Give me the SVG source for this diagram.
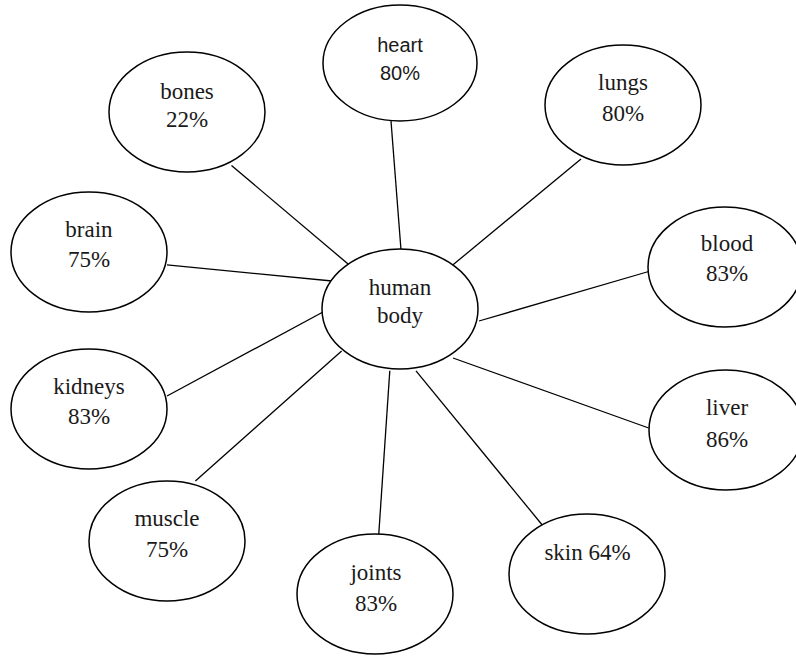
<svg xmlns="http://www.w3.org/2000/svg" width="796" height="657" viewBox="0 0 796 657">
<style>
.n ellipse{fill:#fff;stroke:#000;stroke-width:1.5}
.n text{font-family:"Liberation Serif","Times New Roman",serif;font-size:23px;fill:#1a1a1a;text-anchor:middle}
.n text.s{font-family:"Liberation Sans",Arial,sans-serif;font-size:20px}
#edges line{stroke:#000;stroke-width:1.3}
</style>
<rect width="796" height="657" fill="#fff"/>
<g id="edges">
<line x1="391" y1="121" x2="401" y2="250"/>
<line x1="231.5" y1="165.5" x2="349" y2="264.8"/>
<line x1="581" y1="159" x2="453" y2="264.8"/>
<line x1="167" y1="264.8" x2="332" y2="281"/>
<line x1="648.7" y1="271.5" x2="479" y2="321"/>
<line x1="167" y1="396" x2="323" y2="312"/>
<line x1="648.7" y1="428" x2="453" y2="358"/>
<line x1="195.4" y1="481" x2="341.6" y2="351"/>
<line x1="378.7" y1="535" x2="389.8" y2="370.8"/>
<line x1="544.7" y1="528" x2="416" y2="370.8"/>
</g>
<g id="heart" class="n"><ellipse cx="400" cy="63" rx="77" ry="58"/><text class="s" x="400" y="52">heart</text><text class="s" x="400" y="80">80%</text></g>
<g id="bones" class="n"><ellipse cx="187" cy="112" rx="78" ry="60"/><text x="187" y="99">bones</text><text x="187" y="127">22%</text></g>
<g id="lungs" class="n"><ellipse cx="623" cy="105" rx="78" ry="60"/><text x="623" y="90">lungs</text><text x="623" y="121">80%</text></g>
<g id="brain" class="n"><ellipse cx="89" cy="252" rx="78" ry="60"/><text x="89" y="237">brain</text><text x="89" y="267">75%</text></g>
<g id="human-body" class="n"><ellipse cx="400" cy="309" rx="78" ry="60"/><text x="400" y="295">human</text><text x="400" y="323">body</text></g>
<g id="blood" class="n"><ellipse cx="725" cy="267" rx="77" ry="60"/><text x="727" y="251">blood</text><text x="727" y="281">83%</text></g>
<g id="kidneys" class="n"><ellipse cx="89" cy="409" rx="78" ry="60"/><text x="89" y="394">kidneys</text><text x="89" y="424">83%</text></g>
<g id="liver" class="n"><ellipse cx="726" cy="430" rx="77" ry="60"/><text x="727" y="415">liver</text><text x="727" y="447">86%</text></g>
<g id="muscle" class="n"><ellipse cx="167" cy="541" rx="78" ry="60"/><text x="167" y="526">muscle</text><text x="167" y="557">75%</text></g>
<g id="joints" class="n"><ellipse cx="375" cy="594" rx="78" ry="60"/><text x="376" y="580">joints</text><text x="376" y="611">83%</text></g>
<g id="skin" class="n"><ellipse cx="587" cy="574" rx="78" ry="60"/><text x="587.5" y="560">skin 64%</text></g>
</svg>
